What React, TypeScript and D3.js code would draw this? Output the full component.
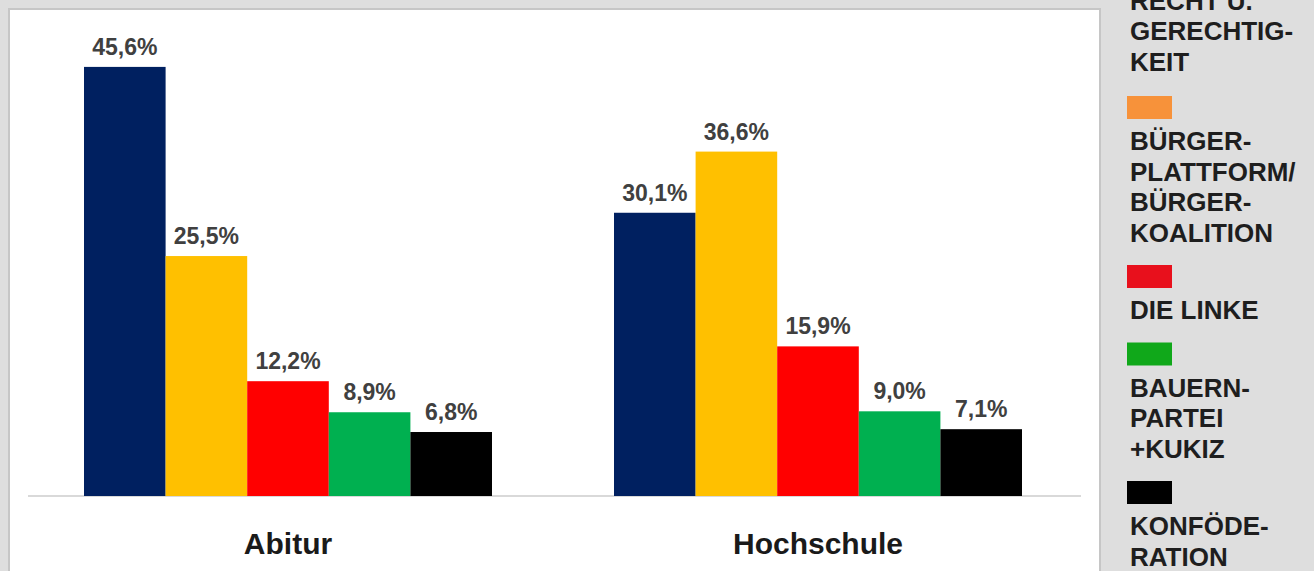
import React from "react";
import * as d3 from "d3";

const categories = ["Abitur", "Hochschule"];
const parties = ["PiS", "PO", "Lewica", "PSL", "Konfederacja"];
const abiturValues = [45.6, 25.5, 12.2, 8.9, 6.8];
const hochschuleValues = [30.1, 36.6, 15.9, 9.0, 7.1];
const seriesValues = [abiturValues, hochschuleValues];
const barColors = ["#002060", "#FFC000", "#FF0000", "#00B050", "#000000"];
const legendColors = ["#002060", "#F7923A", "#E8101C", "#10A81A", "#000000"];
const legendLabels = [
  ["RECHT U.", "GERECHTIG-", "KEIT"],
  ["BÜRGER-", "PLATTFORM/", "BÜRGER-", "KOALITION"],
  ["DIE LINKE"],
  ["BAUERN-", "PARTEI", "+KUKIZ"],
  ["KONFÖDE-", "RATION"],
];

const fmt = (v: number) => v.toFixed(1).replace(".", ",") + "%";

export default function App() {
  const W = 1314;
  const H = 571;
  const baseY = 496;
  const x0 = d3.scaleBand<string>().domain(categories).range([23, 1083]).padding(0);
  const groupW = 408;
  const x1 = d3.scaleBand<string>().domain(parties).range([0, groupW]).padding(0);
  const y = d3.scaleLinear().domain([0, 50]).range([baseY, 25.5]);

  // legend layout
  const entryBase = 47;
  const lineH = 30.5;
  const legendTops: number[] = [];
  const heights = legendLabels.map((l) => entryBase + l.length * lineH);
  let acc = 96 - heights[0] - 2;
  legendLabels.forEach((_, i) => {
    const top = i === 1 ? 96 : acc;
    legendTops.push(top);
    acc = top + heights[i];
  });

  return (
    <div style={{ position: "fixed", left: 0, top: 0 }}>
      <svg width={W} height={H} style={{ display: "block" }}>
        <rect x={0} y={0} width={W} height={H} fill="#dedede" />
        <rect x={9} y={9} width={1091} height={H + 10} fill="#ffffff" stroke="#c6c6c6" strokeWidth={2} />
        <line x1={28} x2={1081} y1={baseY} y2={baseY} stroke="#d9d9d9" strokeWidth={2} />
        {categories.map((c, ci) => {
          const gx = (x0(c) as number) + x0.bandwidth() / 2 - groupW / 2;
          return (
            <g key={c}>
              {parties.map((p, pi) => {
                const v = seriesValues[ci][pi];
                const bx = gx + (x1(p) as number);
                return (
                  <g key={p}>
                    <rect x={bx} y={y(v)} width={x1.bandwidth()} height={baseY - y(v)} fill={barColors[pi]} />
                    <text
                      x={bx + x1.bandwidth() / 2}
                      y={y(v) - 12}
                      textAnchor="middle"
                      fontFamily="Liberation Sans, Arial, sans-serif"
                      fontWeight="bold"
                      fontSize={23}
                      fill="#404040"
                    >
                      {fmt(v)}
                    </text>
                  </g>
                );
              })}
              <text
                x={(x0(c) as number) + x0.bandwidth() / 2}
                y={554}
                textAnchor="middle"
                fontFamily="Liberation Sans, Arial, sans-serif"
                fontWeight="bold"
                fontSize={30}
                fill="#1a1a1a"
              >
                {c}
              </text>
            </g>
          );
        })}
        {legendLabels.map((lines, i) => (
          <g key={i}>
            <rect x={1127} y={legendTops[i]} width={45} height={23} fill={legendColors[i]} />
            {lines.map((t, li) => (
              <text
                key={li}
                x={1130}
                y={legendTops[i] + 54 + li * lineH}
                fontFamily="Liberation Sans, Arial, sans-serif"
                fontWeight="bold"
                fontSize={26}
                fill="#1e1e1e"
              >
                {t}
              </text>
            ))}
          </g>
        ))}
      </svg>
    </div>
  );
}
